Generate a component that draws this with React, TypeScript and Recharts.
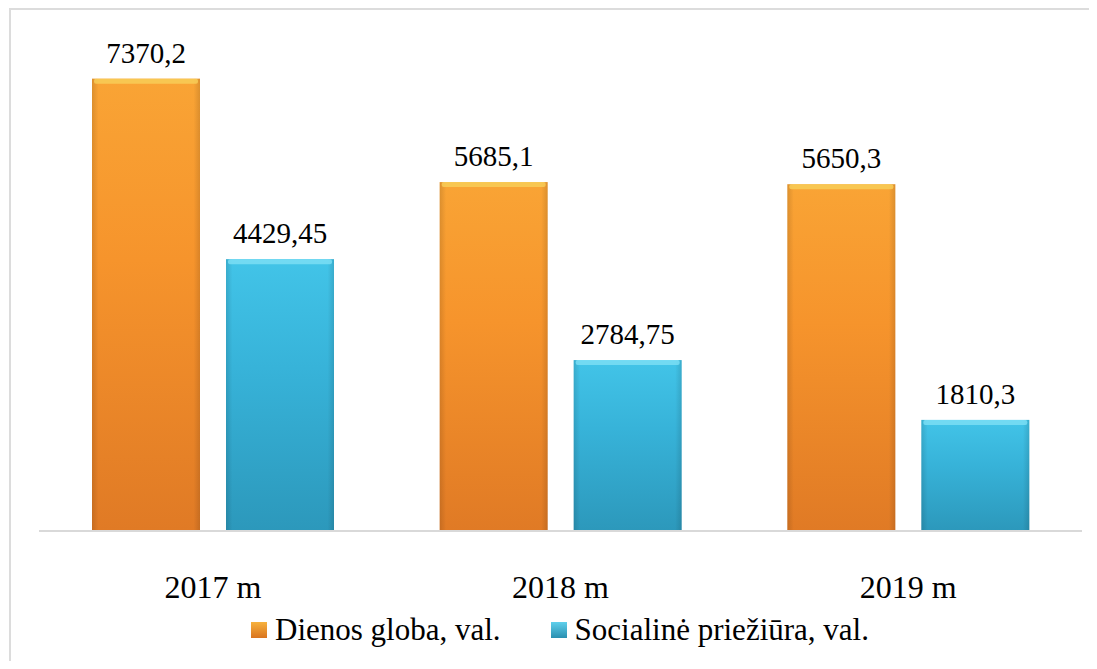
import { BarChart, Bar, XAxis, YAxis, Legend, LabelList } from 'recharts';

const YEARS = ['2017 m', '2018 m', '2019 m'];
const DIENOS = [7370.2, 5685.1, 5650.3];
const SOCIAL = [4429.45, 2784.75, 1810.3];
const DIENOS_LABELS = ['7370,2', '5685,1', '5650,3'];
const SOCIAL_LABELS = ['4429,45', '2784,75', '1810,3'];

const data = YEARS.map((year, i) => ({
  year,
  dienos: DIENOS[i],
  social: SOCIAL[i],
  dienosLabel: DIENOS_LABELS[i],
  socialLabel: SOCIAL_LABELS[i],
}));

const SERIF = 'serif';

// bevelled bar: gradient body plus a light top edge
function makeShape(grad: string, edge: string) {
  return (props: any) => {
    const { x, y, width, height } = props;
    if (!height || height <= 0) return <g />;
    return (
      <g>
        <rect x={x} y={y} width={width} height={height} fill={`url(#${grad})`} />
        <rect x={x} y={y} width={width} height={height} fill="url(#sideShade)" />
        <rect x={x + 2} y={y} width={width - 4} height={5} fill={edge} opacity={0.8} rx={2} />
      </g>
    );
  };
}

function LegendContent() {
  const items = [
    { name: 'Dienos globa, val.', bg: 'linear-gradient(#f7b23e, #d9741f)' },
    { name: 'Socialinė priežiūra, val.', bg: 'linear-gradient(#5fd0ec, #2a8fb0)' },
  ];
  return (
    <div
      style={{
        display: 'flex',
        alignItems: 'center',
        paddingLeft: 251,
        height: 36,
        lineHeight: '36px',
        color: '#000',
        fontFamily: SERIF,
      }}
    >
      {items.map((it, i) => (
        <div key={it.name} style={{ display: 'flex', alignItems: 'center', marginLeft: i ? 50 : 0 }}>
          <span style={{ display: 'inline-block', width: 16, height: 16, background: it.bg, marginRight: 8 }} />
          <span style={{ fontFamily: SERIF, fontSize: 31 }}>{it.name}</span>
        </div>
      ))}
    </div>
  );
}

export default function App() {
  return (
    <div style={{ position: 'relative', margin: -8, width: 1097, height: 669, background: '#fff', overflow: 'hidden', fontFamily: SERIF }}>
      <div
        style={{
          position: 'absolute',
          left: 9,
          top: 8,
          width: 1200,
          height: 800,
          borderLeft: '2px solid #dcdcdc',
          borderTop: '2px solid #dcdcdc',
        }}
      />
      <BarChart
        width={1097}
        height={669}
        data={data}
        margin={{ top: 40, right: 15, left: 39, bottom: 21 }}
        barSize={108}
        barGap={26}
        style={{ position: 'absolute', left: 0, top: 0, fontFamily: SERIF }}
      >
        <defs>
          <linearGradient id="orangeGrad" x1="0" y1="0" x2="0" y2="1">
            <stop offset="0%" stopColor="#f9a435" />
            <stop offset="40%" stopColor="#f6942c" />
            <stop offset="100%" stopColor="#e07a25" />
          </linearGradient>
          <linearGradient id="blueGrad" x1="0" y1="0" x2="0" y2="1">
            <stop offset="0%" stopColor="#42c4e8" />
            <stop offset="40%" stopColor="#37b3d9" />
            <stop offset="100%" stopColor="#2c98bb" />
          </linearGradient>
          <linearGradient id="sideShade" x1="0" y1="0" x2="1" y2="0">
            <stop offset="0%" stopColor="#000" stopOpacity={0.12} />
            <stop offset="6%" stopColor="#000" stopOpacity={0} />
            <stop offset="94%" stopColor="#000" stopOpacity={0} />
            <stop offset="100%" stopColor="#000" stopOpacity={0.12} />
          </linearGradient>
        </defs>
        <XAxis
          dataKey="year"
          height={81}
          axisLine={{ stroke: '#d9d9d9', strokeWidth: 2 }}
          tickLine={false}
          tickSize={0}
          tickMargin={44}
          tick={{ fontFamily: SERIF, fontSize: 32, fill: '#000' }}
        />
        <YAxis hide domain={[0, 8000]} />
        <Legend
          verticalAlign="bottom"
          content={<LegendContent />}
          wrapperStyle={{ left: 0, width: 1097, bottom: 21, fontFamily: SERIF }}
        />
        <Bar dataKey="dienos" name="Dienos globa, val." isAnimationActive={false} shape={makeShape('orangeGrad', '#f8cf5a')}>
          <LabelList dataKey="dienosLabel" position="top" offset={16} fontFamily={SERIF} fontSize={29} fill="#000" />
        </Bar>
        <Bar dataKey="social" name="Socialinė priežiūra, val." isAnimationActive={false} shape={makeShape('blueGrad', '#7ee0f5')}>
          <LabelList dataKey="socialLabel" position="top" offset={16} fontFamily={SERIF} fontSize={29} fill="#000" />
        </Bar>
      </BarChart>
    </div>
  );
}
